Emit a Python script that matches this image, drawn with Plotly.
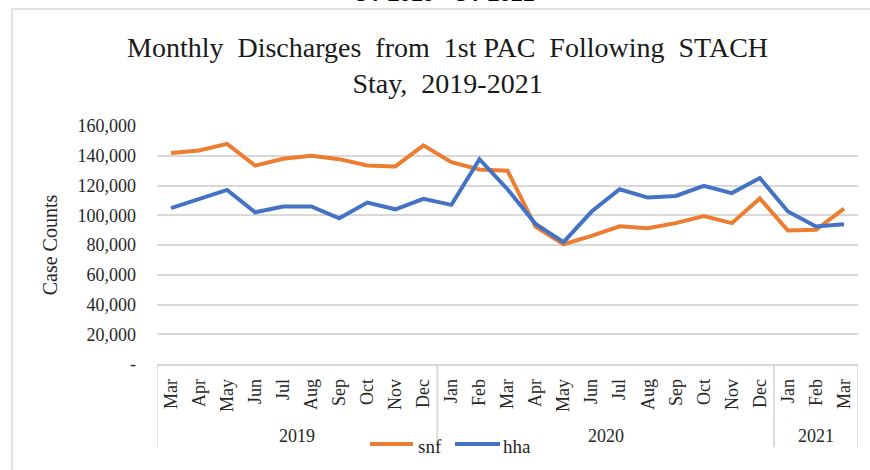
import plotly.graph_objects as go

months = ["Mar", "Apr", "May", "Jun", "Jul", "Aug", "Sep", "Oct", "Nov", "Dec",
          "Jan", "Feb", "Mar", "Apr", "May", "Jun", "Jul", "Aug", "Sep", "Oct", "Nov", "Dec",
          "Jan", "Feb", "Mar"]
years = ["2019", "2020", "2021"]
year_spans = [(0, 9), (10, 21), (22, 24)]

snf = [141800, 143500, 148000, 133400, 138000, 140000, 137700, 133500, 132800, 147000,
       135700, 130800, 130000, 92400, 80500, 86100, 92600, 91300, 94700, 99400, 94700, 111300,
       89700, 90200, 104500]
hha = [104800, 111200, 117000, 102000, 105900, 105900, 98000, 108500, 104000, 111000,
       107000, 137700, 117500, 94200, 81900, 102500, 117500, 111900, 113000, 119800, 114900, 125000,
       102500, 92400, 94000]

series_names = ["snf", "hha"]
series_colors = ["#ED7D31", "#4472C4"]

ytickvals = [0, 20000, 40000, 60000, 80000, 100000, 120000, 140000, 160000]
yticktext = ["-", "20,000", "40,000", "60,000", "80,000", "100,000", "120,000", "140,000", "160,000"]

W, H = 870, 470
L, R, T, B = 157, 12, 126, 106
pw, ph = W - L - R, H - T - B

def px(xp):
    return (xp - L) / pw

def py(yp):
    return (H - B - yp) / ph

serif = "Liberation Serif, Times New Roman, serif"
x = list(range(len(months)))

fig = go.Figure()
for name, vals, col in zip(series_names, [snf, hha], series_colors):
    fig.add_trace(go.Scatter(x=x, y=vals, mode="lines", name=name,
                             line=dict(color=col, width=4), showlegend=False))

shapes = []
# outer frame
shapes.append(dict(type="rect", xref="paper", yref="paper",
                   x0=px(12), x1=px(885), y0=py(485), y1=py(9),
                   line=dict(color="#d9d9d9", width=1.5), fillcolor="rgba(0,0,0,0)", layer="below"))
# category box vertical lines
for a, b in year_spans:
    for xv in (a - 0.5, b + 0.5):
        shapes.append(dict(type="line", xref="x", yref="paper", x0=xv, x1=xv,
                           y0=py(364), y1=py(447), line=dict(color="#d9d9d9", width=1.5)))

annotations = []
for (a, b), yr in zip(year_spans, years):
    annotations.append(dict(x=(a + b) / 2, y=py(436), xref="x", yref="paper", text=yr,
                            showarrow=False, font=dict(family=serif, size=18, color="#262626"),
                            xanchor="center", yanchor="middle"))
annotations.append(dict(x=px(447.5), y=py(65), xref="paper", yref="paper",
                        text="Monthly  Discharges  from  1st PAC  Following  STACH<br>Stay,  2019-2021",
                        showarrow=False, font=dict(family=serif, size=28, color="#1a1a1a"),
                        xanchor="center", yanchor="middle"))
annotations.append(dict(x=px(444), y=py(7), xref="paper", yref="paper",
                        text="<b>CY 2019 - CY 2021</b>", showarrow=False,
                        font=dict(family="Liberation Sans, Arial, sans-serif", size=21, color="#000000"),
                        xanchor="center", yanchor="bottom"))

# manual legend
leg_pos = [(370, 413, 416), (455, 500, 501)]
for (x0, x1, tx), name, col in zip(leg_pos, series_names, series_colors):
    shapes.append(dict(type="line", xref="paper", yref="paper", x0=px(x0), x1=px(x1),
                       y0=py(444), y1=py(444), line=dict(color=col, width=4)))
    annotations.append(dict(x=px(tx), y=py(446), xref="paper", yref="paper", text=name,
                            showarrow=False, font=dict(family=serif, size=19, color="#262626"),
                            xanchor="left", yanchor="middle"))

fig.update_layout(
    width=W, height=H,
    margin=dict(l=L, r=R, t=T, b=B),
    paper_bgcolor="white", plot_bgcolor="white",
    showlegend=False,
    shapes=shapes,
    annotations=annotations,
    xaxis=dict(tickmode="array", tickvals=x, ticktext=months, tickangle=-90,
               range=[-0.5, len(months) - 0.5], showgrid=False, zeroline=False,
               showline=True, linecolor="#d9d9d9", linewidth=1.5,
               ticks="", ticklabelstandoff=6,
               tickfont=dict(family=serif, size=18, color="#262626")),
    yaxis=dict(tickmode="array", tickvals=ytickvals, ticktext=yticktext,
               range=[0, 160000], showgrid=True, gridcolor="#d9d9d9", gridwidth=1.5,
               zeroline=False, showline=False, ticks="", ticklabelstandoff=20,
               tickfont=dict(family=serif, size=18, color="#262626"),
               title=dict(text="Case Counts", font=dict(family=serif, size=20, color="#262626"),
                          standoff=14)),
)

fig.write_html("out.html")
